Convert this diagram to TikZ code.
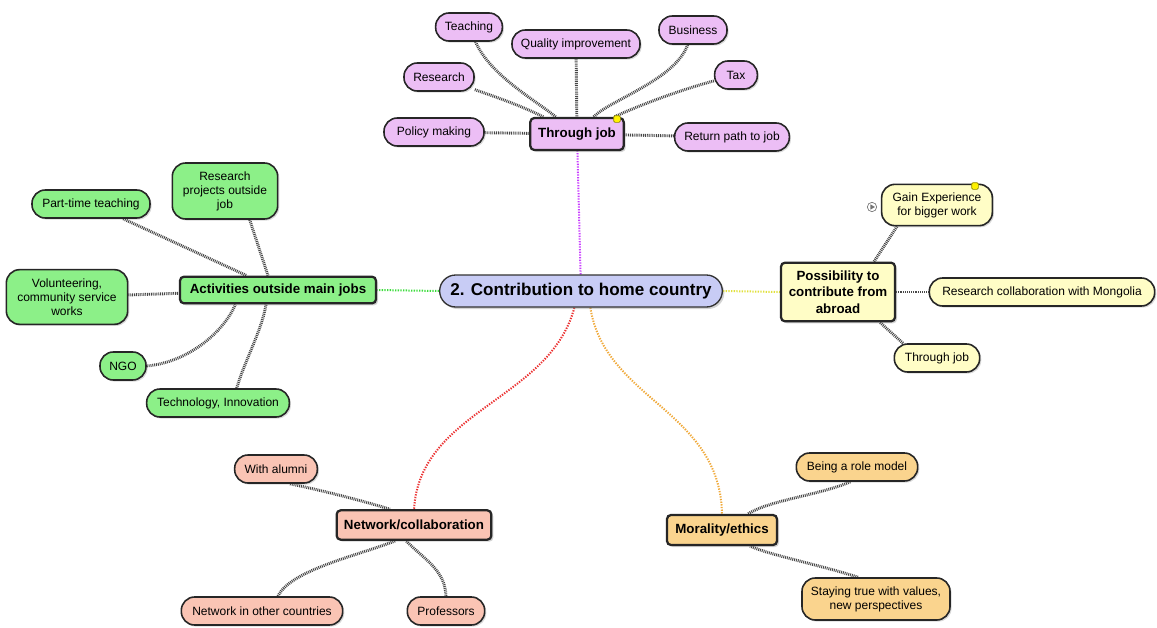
\documentclass[tikz,border=0pt]{standalone}
\usepackage{fontspec}
\setmainfont{Liberation Sans}
\usetikzlibrary{shadows,backgrounds}
\definecolor{cblue}{RGB}{200,204,245}
\definecolor{cpurple}{RGB}{236,190,245}
\definecolor{cgreen}{RGB}{140,240,136}
\definecolor{cyellow}{RGB}{255,253,198}
\definecolor{csalmon}{RGB}{250,196,180}
\definecolor{corange}{RGB}{250,212,142}
\definecolor{lpurple}{RGB}{200,60,255}
\definecolor{lgreen}{RGB}{60,220,60}
\definecolor{lyellow}{RGB}{225,225,60}
\definecolor{lred}{RGB}{235,50,50}
\definecolor{lorange}{RGB}{240,170,60}
\begin{document}
\begin{tikzpicture}[x=0.75pt,y=-0.75pt,
  leaf/.style={draw=black!85, line width=1.2pt, rounded corners=10pt, minimum height=21pt,
    inner sep=2pt, align=center, font=\fontsize{9}{10.5}\selectfont,
    drop shadow={shadow xshift=1.2pt,shadow yshift=-1.2pt,opacity=0.3}},
  hub/.style={draw=black!85, line width=1.7pt, rounded corners=3pt, inner sep=3pt,
    align=center, font=\bfseries\fontsize{10}{12.5}\selectfont,
    drop shadow={shadow xshift=1.5pt,shadow yshift=-1.5pt,opacity=0.35}},
  root/.style={draw=black!80, line width=1pt, rounded corners=12pt, inner sep=3pt,
    align=center, font=\bfseries\fontsize{12.8}{15}\selectfont,
    drop shadow={shadow xshift=1.5pt,shadow yshift=-1.5pt,opacity=0.35}},
  link/.style={draw=black!72, line width=2.2pt, dash pattern=on 0.7pt off 0.7pt},
  mainlink/.style={line width=1.5pt, dash pattern=on 1pt off 1pt},
  marker/.style={fill=yellow, draw=olive, line width=0.5pt, minimum size=5pt, inner sep=0pt, rounded corners=1pt}
]
\useasboundingbox (0,0) rectangle (1157,628);

% root
\node[root, fill=cblue, minimum width=212pt, minimum height=24pt] (central) at (581,291) {2. Contribution to home country};

% through job
\node[hub, fill=cpurple, minimum width=70pt, minimum height=24pt] (tj) at (577,134) {Through job};
\node[leaf, fill=cpurple, minimum width=50pt] (teach) at (469,27) {Teaching};
\node[leaf, fill=cpurple, minimum width=96pt] (qual) at (576,44) {Quality improvement};
\node[leaf, fill=cpurple, minimum width=51pt] (bus) at (693,30) {Business};
\node[leaf, fill=cpurple, minimum width=52.5pt] (res) at (439,77) {Research};
\node[leaf, fill=cpurple, minimum width=32pt] (tax) at (736,75) {Tax};
\node[leaf, fill=cpurple, minimum width=75pt] (pol) at (434,132) {Policy making};
\node[leaf, fill=cpurple, minimum width=86pt] (ret) at (732,137) {Return path to job};
\node[marker] (dot1) at (617,119) {};

% activities
\node[hub, fill=cgreen, minimum width=147pt, minimum height=20pt] (act) at (278,290) {Activities outside main jobs};
\node[leaf, fill=cgreen, minimum width=88.5pt] (part) at (91,204) {Part-time teaching};
\node[leaf, fill=cgreen, minimum width=79pt, minimum height=42pt] (resproj) at (225,191) {Research\\projects outside\\job};
\node[leaf, fill=cgreen, minimum width=91pt, minimum height=41pt] (vol) at (67,297) {Volunteering,\\community service\\works};
\node[leaf, fill=cgreen, minimum width=34.5pt] (ngo) at (123,366) {NGO};
\node[leaf, fill=cgreen, minimum width=107pt] (tech) at (218,403) {Technology, Innovation};

% possibility
\node[hub, fill=cyellow, minimum width=85.5pt, minimum height=44pt] (poss) at (838,292) {Possibility to\\contribute from\\abroad};
\node[leaf, fill=cyellow, minimum width=83pt, minimum height=31pt] (gain) at (937,205) {Gain Experience\\for bigger work};
\node[leaf, fill=cyellow, minimum width=169pt] (collab) at (1042,292) {Research collaboration with Mongolia};
\node[leaf, fill=cyellow, minimum width=64pt] (tj2) at (937,358) {Through job};
\node[marker] (dot2) at (975,186) {};
\node[circle, draw=black!55, line width=0.5pt, minimum size=7pt, inner sep=0pt] (play) at (872,207) {};
\fill[black!55] (870.3,204.3) -- (875,207) -- (870.3,209.7) -- cycle;

% network
\node[hub, fill=csalmon, minimum width=116pt, minimum height=22pt] (net) at (414,525) {Network/collaboration};
\node[leaf, fill=csalmon, minimum width=62pt] (alum) at (276,469) {With alumni};
\node[leaf, fill=csalmon, minimum width=121pt] (other) at (262,611) {Network in other countries};
\node[leaf, fill=csalmon, minimum width=58pt] (prof) at (446,611) {Professors};

% morality
\node[hub, fill=corange, minimum width=82.5pt, minimum height=22.5pt] (mor) at (722,530) {Morality/ethics};
\node[leaf, fill=corange, minimum width=91pt] (role) at (857,467) {Being a role model};
\node[leaf, fill=corange, minimum width=111pt, minimum height=31.5pt] (stay) at (876,599) {Staying true with values,\\new perspectives};

\begin{scope}[on background layer]
% main links
\draw[mainlink, lpurple] (central) -- (tj);
\draw[mainlink, lgreen] (central.west) -- (act.east);
\draw[mainlink, lyellow] (central.east) -- (poss.west);
\draw[mainlink, lred] ([xshift=-5pt]central.south) .. controls (550,400) and (420,410) .. (net.north);
\draw[mainlink, lorange] ([xshift=7pt]central.south) .. controls (605,400) and (720,410) .. (mor.north);

% through job links
\draw[link] (teach) .. controls (490,75) and (535,100) .. (tj);
\draw[link] (qual) -- (tj);
\draw[link] (bus) .. controls (675,80) and (610,100) .. (tj);
\draw[link] (res) .. controls (490,95) and (520,105) .. (tj);
\draw[link] (tax) .. controls (680,90) and (640,105) .. (tj);
\draw[link] (pol) -- (tj);
\draw[link] (ret) -- (tj);

% activities links
\draw[link] (part) -- (act);
\draw[link] ([xshift=18.5pt]resproj.south) -- ([xshift=-7.5pt]act.north);
\draw[link] (vol) -- (act);
\draw[link] (ngo.east) .. controls (190,362) and (225,330) .. ([xshift=-32pt]act.south);
\draw[link] ([xshift=14pt]tech.north) .. controls (245,360) and (262,330) .. ([xshift=-9pt]act.south);

% possibility links
\draw[link] ([xshift=-30pt]gain.south) -- ([xshift=27pt]poss.north);
\draw[link] (collab) -- (poss);
\draw[link] ([xshift=-25.5pt]tj2.north) -- ([xshift=31.5pt]poss.south);

% network links
\draw[link] ([xshift=10.5pt]alum.south) .. controls (320,490) and (360,500) .. ([xshift=-18pt]net.north);
\draw[link] ([xshift=12pt]other.north) .. controls (290,570) and (360,555) .. ([xshift=-14pt]net.south);
\draw[link] (prof.north) .. controls (445,570) and (425,560) .. ([xshift=-6pt]net.south);

% morality links
\draw[link] ([xshift=-5pt]role.south) .. controls (820,495) and (770,500) .. ([xshift=19.5pt]mor.north);
\draw[link] ([xshift=-13.5pt]stay.north) .. controls (820,565) and (770,555) .. ([xshift=21pt]mor.south);
\end{scope}
\end{tikzpicture}
\end{document}
